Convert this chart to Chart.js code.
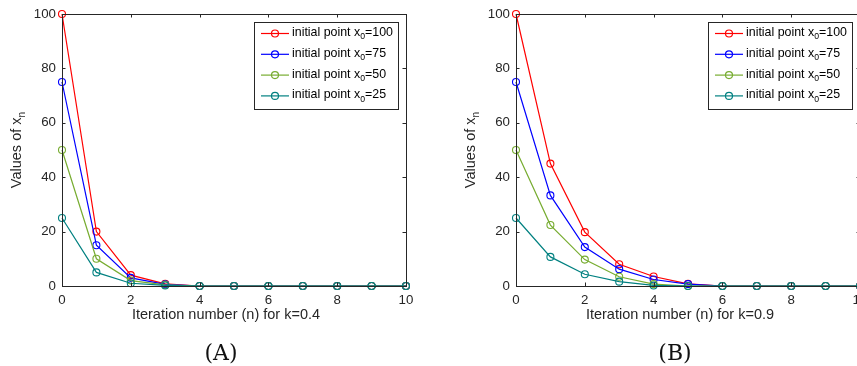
<html>
<head>
<script src="https://cdn.jsdelivr.net/npm/chart.js@4.4.0/dist/chart.umd.min.js"></script>
<style>
body { margin:0; background:#fff; overflow:hidden; width:857px; height:366px; position:relative; }
.panel { position:absolute; top:0; width:430px; height:366px; }
</style>
</head>
<body>
<div class="panel" style="left:0px"><canvas id="chartA" width="430" height="366"></canvas></div>
<div class="panel" style="left:454px"><canvas id="chartB" width="430" height="366"></canvas></div>
<script>
// iteration number n
var iterations = [0, 1, 2, 3, 4, 5, 6, 7, 8, 9, 10];
var startPoints = [100, 75, 50, 25];
var xTicks = [0, 2, 4, 6, 8, 10];
var yTicks = [0, 20, 40, 60, 80, 100];

// panel (A), k=0.4
var a_x100 = [100, 20, 4, 0.8, 0, 0, 0, 0, 0, 0, 0];
var a_x75  = [75, 15, 3, 0.6, 0, 0, 0, 0, 0, 0, 0];
var a_x50  = [50, 10, 2, 0.4, 0, 0, 0, 0, 0, 0, 0];
var a_x25  = [25, 5, 1, 0.2, 0, 0, 0, 0, 0, 0, 0];

// panel (B), k=0.9
var b_x100 = [100, 45, 19.8, 8, 3.5, 0.8, 0, 0, 0, 0, 0];
var b_x75  = [75, 33.3, 14.3, 6.2, 2.4, 0.7, 0, 0, 0, 0, 0];
var b_x50  = [50, 22.4, 9.7, 3.4, 0.7, 0, 0, 0, 0, 0, 0];
var b_x25  = [25, 10.7, 4.3, 1.6, 0.2, 0, 0, 0, 0, 0, 0];

var colors = ['#ff0000', '#0000ff', '#77ac30', '#008080'];
var axisColor = '#262626';
var sans = '"Liberation Sans", Arial, sans-serif';

function pts(vals) {
    return iterations.map(function(n, i) { return {x: n, y: vals[i]}; });
}

// draw a string made of [text, isSubscript] parts, left aligned, middle baseline
function drawParts(ctx, parts, x, y, size) {
    ctx.textBaseline = 'middle';
    ctx.textAlign = 'left';
    parts.forEach(function(p) {
        if (p[1]) {
            ctx.font = (size * 0.7) + 'px ' + sans;
            ctx.fillText(p[0], x, y + size * 0.35);
        } else {
            ctx.font = size + 'px ' + sans;
            ctx.fillText(p[0], x, y);
        }
        x += ctx.measureText(p[0]).width;
    });
    return x;
}
function partsWidth(ctx, parts, size) {
    var w = 0;
    parts.forEach(function(p) {
        ctx.font = (p[1] ? size * 0.7 : size) + 'px ' + sans;
        w += ctx.measureText(p[0]).width;
    });
    return w;
}

var matlabFrame = {
    id: 'matlabFrame',
    afterDraw: function(chart, args, opts) {
        var ctx = chart.ctx;
        var a = chart.chartArea;
        var xs = chart.scales.x, ys = chart.scales.y;
        ctx.save();
        ctx.strokeStyle = axisColor;
        ctx.lineWidth = 1;
        // box
        ctx.strokeRect(Math.round(a.left) + 0.5, Math.round(a.top) + 0.5,
            Math.round(a.right - a.left), Math.round(a.bottom - a.top));
        // inward ticks on all four sides
        var tl = 3.5;
        ctx.beginPath();
        xs.ticks.forEach(function(t) {
            var px = Math.round(xs.getPixelForValue(t.value)) + 0.5;
            ctx.moveTo(px, a.bottom); ctx.lineTo(px, a.bottom - tl);
            ctx.moveTo(px, a.top); ctx.lineTo(px, a.top + tl);
        });
        ys.ticks.forEach(function(t) {
            var py = Math.round(ys.getPixelForValue(t.value)) + 0.5;
            ctx.moveTo(a.left, py); ctx.lineTo(a.left + tl, py);
            ctx.moveTo(a.right, py); ctx.lineTo(a.right - tl, py);
        });
        ctx.stroke();

        // x title
        ctx.fillStyle = axisColor;
        ctx.font = '14.5px ' + sans;
        ctx.textAlign = 'center';
        ctx.textBaseline = 'middle';
        ctx.fillText(opts.xTitle, 226, 315);

        // y title, rotated, with subscript n
        var yParts = [['Values of x', false], ['n', true]];
        ctx.save();
        ctx.translate(17, 150);
        ctx.rotate(-Math.PI / 2);
        var w = partsWidth(ctx, yParts, 14.5);
        drawParts(ctx, yParts, -w / 2, 0, 14.5);
        ctx.restore();

        // panel caption
        ctx.font = '22px "DejaVu Serif", "Liberation Serif", serif';
        ctx.textAlign = 'center';
        ctx.fillStyle = '#111';
        ctx.fillText(opts.caption, 221, 354);

        // legend
        var lx = 254.5, ly = 22.5, lw = 144, lh = 87;
        ctx.fillStyle = '#fff';
        ctx.fillRect(lx, ly, lw, lh);
        ctx.strokeStyle = axisColor;
        ctx.strokeRect(lx, ly, lw, lh);
        chart.data.datasets.forEach(function(ds, i) {
            var y = 33.5 + i * 20.8;
            ctx.strokeStyle = ds.borderColor;
            ctx.lineWidth = 1.2;
            ctx.beginPath();
            ctx.moveTo(261, y); ctx.lineTo(289, y);
            ctx.stroke();
            ctx.beginPath();
            ctx.arc(275, y, 3.5, 0, Math.PI * 2);
            ctx.stroke();
            ctx.fillStyle = '#000';
            drawParts(ctx, [['initial point x', false], ['0', true], ['=' + startPoints[i], false]], 292, y - 1, 12.4);
        });
        ctx.restore();
    }
};

function makeChart(id, series, xTitle, caption) {
    var ctx = document.getElementById(id).getContext('2d');
    var datasets = series.map(function(vals, i) {
        return {
            label: 'initial point x0=' + startPoints[i],
            data: pts(vals),
            borderColor: colors[i],
            backgroundColor: colors[i],
            pointBackgroundColor: 'rgba(0,0,0,0)',
            pointBorderColor: colors[i],
            pointRadius: 3.5,
            pointBorderWidth: 1.1,
            pointHoverRadius: 3.5,
            borderWidth: 1.2,
            tension: 0,
            clip: false,
            order: 4 - i
        };
    });
    var tickFont = {family: sans, size: 13.3};
    return new Chart(ctx, {
        type: 'line',
        data: {datasets: datasets},
        plugins: [matlabFrame],
        options: {
            responsive: false,
            animation: false,
            layout: {padding: {left: 0, top: 14, right: 24, bottom: 0}},
            scales: {
                x: {
                    type: 'linear', min: 0, max: 10,
                    afterBuildTicks: function(s) { s.ticks = xTicks.map(function(v) { return {value: v}; }); },
                    ticks: {color: axisColor, font: tickFont, padding: 6, maxRotation: 0},
                    grid: {display: false, drawTicks: false},
                    border: {display: false},
                    afterFit: function(s) { s.height = 80; }
                },
                y: {
                    min: 0, max: 100,
                    afterBuildTicks: function(s) { s.ticks = yTicks.map(function(v) { return {value: v}; }); },
                    ticks: {color: axisColor, font: tickFont, padding: 6},
                    grid: {display: false, drawTicks: false},
                    border: {display: false},
                    afterFit: function(s) { s.width = 62; }
                }
            },
            plugins: {
                legend: {display: false},
                tooltip: {enabled: false},
                matlabFrame: {xTitle: xTitle, caption: caption}
            }
        }
    });
}

makeChart('chartA', [a_x100, a_x75, a_x50, a_x25], 'Iteration number (n) for k=0.4', '(A)');
makeChart('chartB', [b_x100, b_x75, b_x50, b_x25], 'Iteration number (n) for k=0.9', '(B)');
</script>
</body>
</html>
